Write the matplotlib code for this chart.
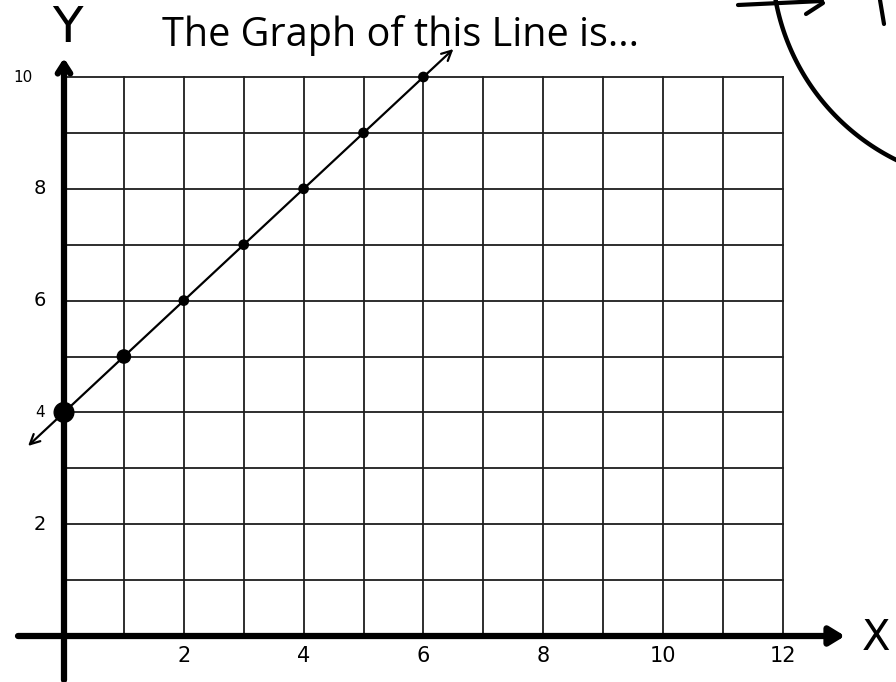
import numpy as np
import matplotlib
matplotlib.use("Agg")
import matplotlib.pyplot as plt

# ---------------- data ----------------
title = "The Graph of this Line is..."
x_points = [0, 1, 2, 3, 4, 5, 6]
y_points = [4, 5, 6, 7, 8, 9, 10]
x_tick_values = [2, 4, 6, 8, 10, 12]
x_tick_labels = ["2", "4", "6", "8", "10", "12"]
y_tick_values = [2, 4, 6, 8, 10]
y_tick_labels = ["2", "4", "6", "8", "10"]
line_x_range = [-0.6, 6.5]     # extent of the drawn line (arrows at both ends)
slope, intercept = 1, 4
grid_x_max, grid_y_max = 12, 10

# ---------------- figure ----------------
W, H, DPI = 896, 682, 100
fig = plt.figure(figsize=(W / DPI, H / DPI), dpi=DPI)
ax = fig.add_axes([0, 0, 1, 1])
ox, oy = 64, 636          # pixel position of the origin
sx, sy = 59.9, 55.9       # pixels per unit
ax.set_xlim(-ox / sx, (W - ox) / sx)
ax.set_ylim(-(H - oy) / sy, oy / sy)
ax.axis("off")

def P(px, py):
    """pixel -> data (for decorations only)"""
    return (px - ox) / sx, (oy - py) / sy

grid_col = "#1e1e1e"
# grid
for gx in range(1, grid_x_max + 1):
    ax.plot([gx, gx], [0, grid_y_max], color=grid_col, lw=1.3, zorder=1)
for gy in range(1, grid_y_max + 1):
    ax.plot([0, grid_x_max], [gy, gy], color=grid_col, lw=1.3, zorder=1)

# axes with arrows
ax.annotate("", xy=P(845, oy), xytext=P(18, oy),
            arrowprops=dict(arrowstyle="-|>,head_length=0.9,head_width=0.55",
                            lw=4.5, color="black", shrinkA=0, shrinkB=0), zorder=3)
ax.annotate("", xy=P(ox, 58), xytext=P(ox, 680),
            arrowprops=dict(arrowstyle="->,head_length=0.7,head_width=0.45",
                            lw=4.5, color="black", shrinkA=0, shrinkB=0), zorder=3)

# the line
lx = np.array(line_x_range)
ly = slope * lx + intercept
ax.annotate("", xy=(lx[1], ly[1]), xytext=(lx[0], ly[0]),
            arrowprops=dict(arrowstyle="<->,head_length=0.7,head_width=0.35",
                            lw=1.6, color="black", shrinkA=0, shrinkB=0), zorder=4)

# points
sizes = [200, 90] + [45] * (len(x_points) - 2)
ax.scatter(x_points, y_points, s=sizes, color="black", zorder=5)

# tick labels
for v, lab in zip(x_tick_values, x_tick_labels):
    ax.text(v, -0.36, lab, ha="center", va="center", fontsize=15, color="black")
for v, lab in zip(y_tick_values, y_tick_labels):
    fs = 11 if lab in ("10", "4") else 14
    xpos = -0.68 if lab == "10" else -0.4
    ax.text(xpos, v, lab, ha="center", va="center", fontsize=fs, color="black")

# axis letters
ax.text(*P(876, 638), "X", ha="center", va="center", fontsize=30, color="black")
ax.text(*P(67, 28), "Y", ha="center", va="center", fontsize=36, color="black")

# title
ax.text(*P(400, 36), title, ha="center", va="center", fontsize=28.5,
        family="Open Sans", color="black")

# partial hand-drawn arc at the top right (decoration)
cx, cy, r = 995, -40, 223
ang = np.linspace(np.deg2rad(188), np.deg2rad(244), 60)
apx = cx + r * np.cos(ang)
apy = cy - r * np.sin(ang)
ax.plot(*P(apx, apy), color="black", lw=3.2, solid_capstyle="round")
ax.plot(*P(np.array([738, 822]), np.array([5, 1])), color="black", lw=3, solid_capstyle="round")
ax.plot(*P(np.array([806, 823]), np.array([14, 3])), color="black", lw=3, solid_capstyle="round")
ax.plot(*P(np.array([880, 884]), np.array([0, 24])), color="black", lw=3, solid_capstyle="round")

fig.savefig("out.png", dpi=DPI)
